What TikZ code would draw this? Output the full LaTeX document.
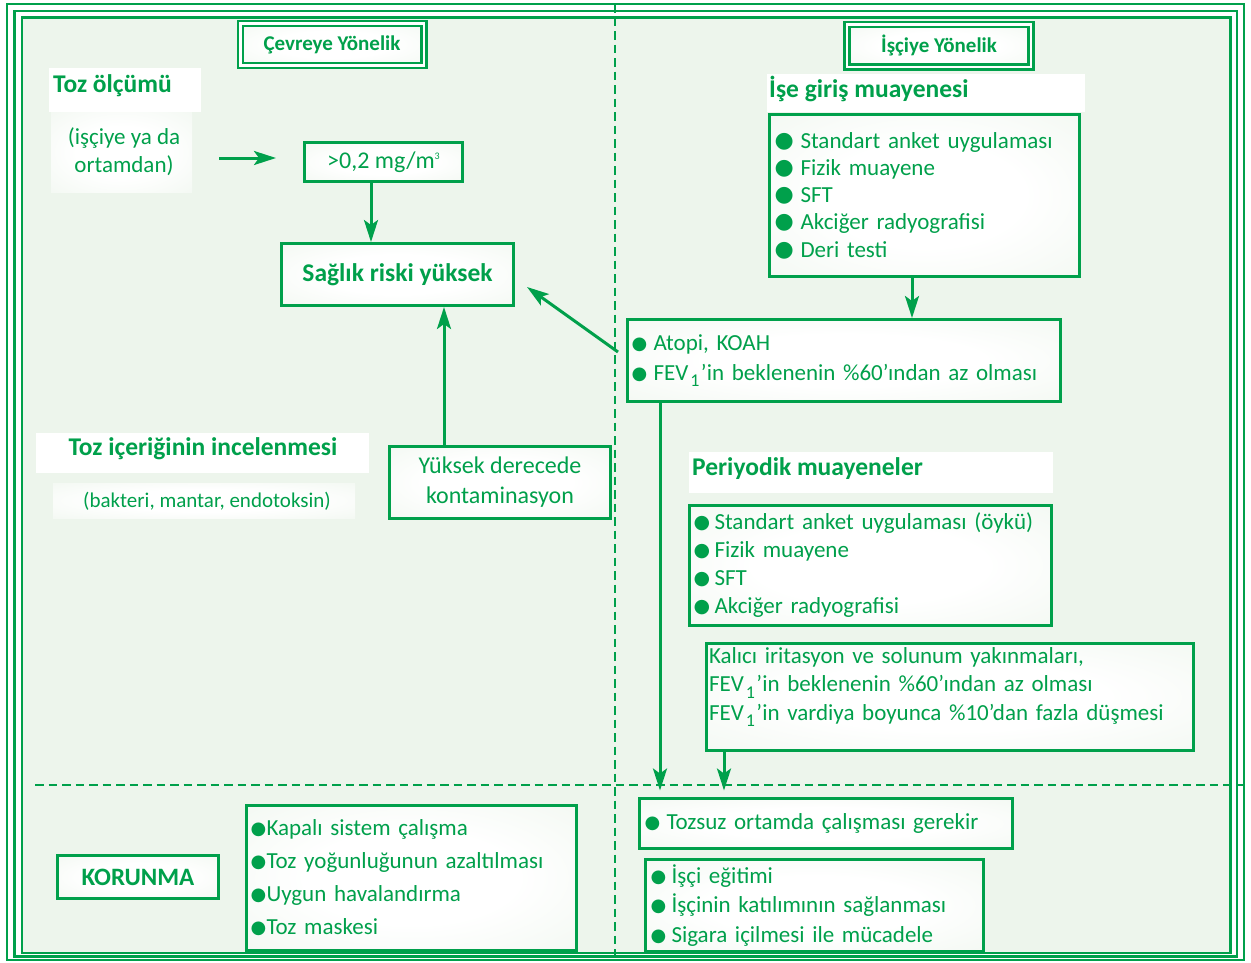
\documentclass[tikz,border=0pt]{standalone}
\usepackage{fontspec}
\setmainfont{Carlito}
\newfontfamily\dejavu{DejaVu Sans}
\usetikzlibrary{arrows.meta}
\definecolor{gr}{RGB}{0,160,75}
\definecolor{bgc}{RGB}{237,245,236}
\pgfdeclareradialshading{boxsh}{\pgfpoint{0bp}{0bp}}{color(0bp)=(white); color(16bp)=(white); color(47bp)=(bgc); color(50bp)=(bgc)}
\newcommand{\ftx}[1]{\fontsize{#1}{#1}\selectfont}
\newcommand{\bl}[2][18]{\makebox[#2][l]{\raisebox{1pt}{\dejavu\fontsize{#1}{#1}\selectfont ●}}}
\newcommand{\fevsub}{\hspace{2pt}\raisebox{-6.5pt}{\fontsize{18}{18}\selectfont 1}\hspace{1.5pt}}
\begin{document}
\begin{tikzpicture}[x=1pt,y=-1pt,
  box/.style={draw=gr, line width=3pt, shading=boxsh, shade, text=gr, inner sep=0pt},
  dbox/.style={draw=gr, line width=2.5pt, double=white, double distance=2.5pt, shading=boxsh, shade, text=gr, inner sep=0pt, font=\bfseries\fontsize{21}{21}\selectfont},
  hd/.style={text=gr, inner sep=0pt, font=\bfseries\fontsize{25.5}{25.5}\selectfont},
  tx/.style={text=gr, inner sep=0pt},
  arr/.style={draw=gr, line width=3pt, -{Stealth[length=22pt,width=14pt,inset=5pt]}},
  wrect/.style={fill=white},
  frameline/.style={draw=gr, line width=2.5pt},
  sepline/.style={draw=gr, line width=2.5pt, dash pattern=on 8.5pt off 5pt}
]
\useasboundingbox (0,0) rectangle (1251,962);
\fill[white] (0,0) rectangle (1251,962);
% frame
\draw[frameline] (7,4) rectangle (1244,960);
\draw[frameline] (14.5,11) rectangle (1237,956.5);
\filldraw[frameline, fill=bgc] (22,17.5) rectangle (1230.5,953);
% separators
\draw[sepline] (615,4) -- (615,960);
\draw[sepline] (35,785) -- (1244,785);

% left top
\fill[wrect] (49,68) rectangle (201,112);
\node[hd, anchor=base west] (tozolc) at (53,92) {Toz ölçümü};
\shade[shading=boxsh] (51,112) rectangle (192,192);
\node[tx, anchor=base, font=\ftx{23}] (isc1) at (124,144) {(işçiye ya da};
\node[tx, anchor=base, font=\ftx{23}] (isc2) at (124,172) {ortamdan)};

\fill[wrect] (36,433) rectangle (369,473);
\node[hd, anchor=base] (tozic) at (203,455) {Toz içeriğinin incelenmesi};
\shade[shading=boxsh] (53,483) rectangle (355,518);
\node[tx, anchor=base, font=\ftx{21}] (bak) at (207,507) {(bakteri, mantar, endotoksin)};

% right headings
\fill[wrect] (767,74) rectangle (1085,112);
\node[hd, anchor=base west] (iseh) at (769,97) {İşe giriş muayenesi};
\fill[wrect] (689,452) rectangle (1053,493);
\node[hd, anchor=base west] (perh) at (692,475) {Periyodik muayeneler};

% title boxes
\node[dbox, minimum width=183.5pt, minimum height=42pt] (cevre) at (332,44.5) {Çevreye Yönelik};
\node[dbox, minimum width=184pt, minimum height=42.5pt] (isci) at (939,45.75) {İşçiye Yönelik};

% left boxes
\node[box, minimum width=158pt, minimum height=39pt, font=\ftx{24}] (mg) at (383.5,162) {>0,2 mg/m\raisebox{9pt}{\ftx{10}3}};
\node[box, minimum width=232pt, minimum height=62pt, font=\bfseries\ftx{25.5}] (sag) at (397.5,274.5) {Sağlık riski yüksek};
\node[box, minimum width=221pt, minimum height=72pt, align=center, font=\fontsize{24}{30}\selectfont] (yuk) at (500,482.5) {Yüksek derecede\\kontaminasyon};
\node[box, minimum width=161pt, minimum height=43pt, font=\bfseries\ftx{25}] (korunma) at (138,877) {KORUNMA};
\node[box, align=left, text width=322pt, inner xsep=4pt, minimum height=145pt, font=\fontsize{23}{33}\selectfont] (korlist) at (411.5,878)
 {\mbox{\bl{16pt}Kapalı sistem çalışma}\\\mbox{\bl{16pt}Toz yoğunluğunun azaltılması}\\\mbox{\bl{16pt}Uygun havalandırma}\\\mbox{\bl{16pt}Toz maskesi}};

% right boxes
\node[box, align=left, text width=300pt, inner xsep=5pt, minimum height=162pt, font=\fontsize{23}{27.25}\selectfont] (iselist) at (924.5,195.5)
 {\mbox{\bl[22]{26pt}Standart anket uygulaması}\\\mbox{\bl[22]{26pt}Fizik muayene}\\\mbox{\bl[22]{26pt}SFT}\\\mbox{\bl[22]{26pt}Akciğer radyografisi}\\\mbox{\bl[22]{26pt}Deri testi}};
\node[box, align=left, text width=425pt, inner xsep=4pt, minimum height=82pt, font=\fontsize{23}{30}\selectfont] (atopi) at (844,360.5)
 {\mbox{\bl{22pt}Atopi, KOAH}\\\mbox{\bl{22pt}FEV\fevsub’in beklenenin \%60’ından az olması}};
\node[box, align=left, text width=354pt, inner xsep=4pt, minimum height=120pt, font=\fontsize{23}{28}\selectfont] (perlist) at (870.5,565.5)
 {\mbox{\bl[19]{21pt}Standart anket uygulaması (öykü)}\\\mbox{\bl[19]{21pt}Fizik muayene}\\\mbox{\bl[19]{21pt}SFT}\\\mbox{\bl[19]{21pt}Akciğer radyografisi}};
\node[box, align=left, text width=482pt, inner xsep=2.5pt, minimum height=107pt, font=\fontsize{23}{28.5}\selectfont] (kalici) at (950,697)
 {\mbox{Kalıcı iritasyon ve solunum yakınmaları,}\\\mbox{FEV\fevsub’in beklenenin \%60’ından az olması}\\\mbox{FEV\fevsub’in vardiya boyunca \%10’dan fazla düşmesi}\\[-2.5pt]\mbox{}};
\node[box, align=left, text width=363pt, inner xsep=5pt, minimum height=50pt, font=\fontsize{23}{28}\selectfont] (tozsuz) at (826,823.5)
 {\mbox{\bl{22pt}Tozsuz ortamda çalışması gerekir}};
\node[box, align=left, text width=328pt, inner xsep=5pt, minimum height=92pt, font=\fontsize{23}{29.5}\selectfont] (egit) at (814.5,905.5)
 {\mbox{\bl{21pt}İşçi eğitimi}\\\mbox{\bl{21pt}İşçinin katılımının sağlanması}\\\mbox{\bl{21pt}Sigara içilmesi ile mücadele}};

% connectors
\coordinate (a1s) at (219,158);
\coordinate (a1e) at (276,158);
\draw[arr] (a1s) -- (a1e);
\draw[arr] ([xshift=-12.5pt]mg.south) -- ([xshift=-12.5pt]mg.south |- sag.north);
\draw[arr] ([xshift=-56pt]yuk.north) -- ([xshift=-56pt]yuk.north |- sag.south);
\draw[arr] ([shift={(-8,-8.5)}]atopi.west) -- ([shift={(12,12.5)}]sag.east);
\draw[arr] ([xshift=-12.5pt]iselist.south) -- ([xshift=-12.5pt]iselist.south |- atopi.north);
\draw[arr, shorten >=6.5pt] ([xshift=-184pt]atopi.south) -- ([xshift=-184pt]atopi.south |- tozsuz.north);
\draw[arr, shorten >=6.5pt] ([xshift=-226pt]kalici.south) -- ([xshift=-226pt]kalici.south |- tozsuz.north);
\end{tikzpicture}
\end{document}
